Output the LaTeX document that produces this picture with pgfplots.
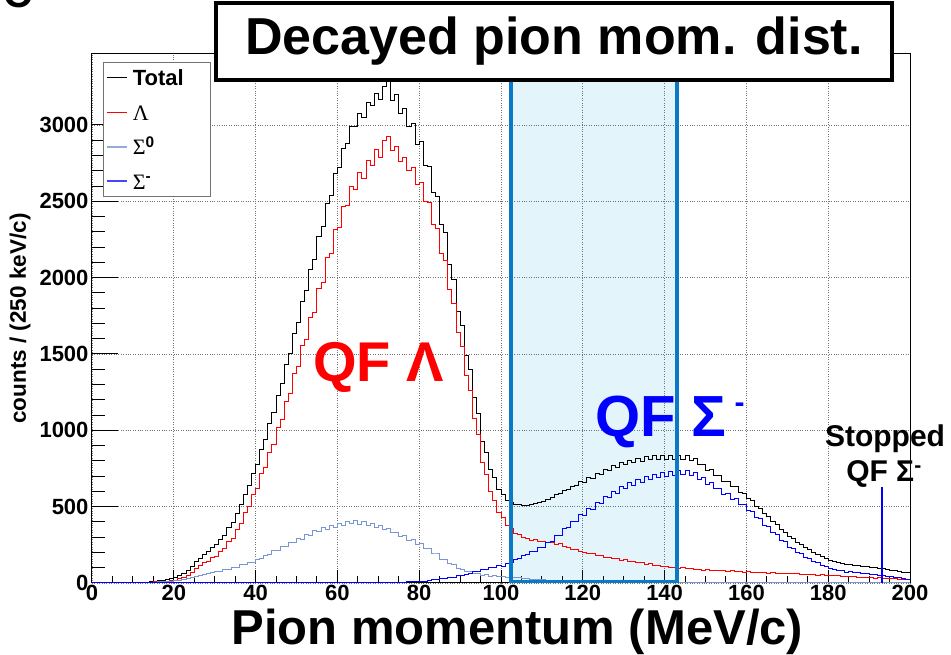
\documentclass[border=0pt]{standalone}
\usepackage{pgfplots}
\pgfplotsset{compat=1.18}
\usepackage{pgfplotstable}
\usepackage{fontspec}
\setmainfont{Liberation Sans}
\newfontfamily\grk{Liberation Serif}
\definecolor{sigzero}{RGB}{120,150,210}
\definecolor{hltint}{RGB}{0,155,220}
\definecolor{hlborder}{RGB}{10,122,200}
\definecolor{qfblue}{RGB}{0,0,255}
\definecolor{legblue}{RGB}{70,70,255}

\pgfplotstableread[row sep=\\]{
x y\\
10 2\\11 4\\12 3\\13 6\\14 5\\15 9\\16 8\\17 12\\18 13\\19 17\\
20 19\\21 27\\22 34\\23 52\\24 68\\25 98\\26 112\\27 134\\28 141\\29 165\\
30 172\\31 206\\32 224\\33 272\\34 294\\35 352\\36 392\\37 461\\38 500\\39 582\\
40 622\\41 714\\42 756\\43 858\\44 905\\45 1020\\46 1068\\47 1192\\48 1240\\49 1375\\
50 1418\\51 1558\\52 1596\\53 1740\\54 1772\\55 1930\\56 1968\\57 2135\\58 2160\\59 2318\\
60 2330\\61 2468\\62 2470\\63 2600\\64 2580\\65 2690\\66 2650\\67 2770\\68 2735\\69 2840\\
70 2790\\71 2900\\72 2925\\73 2830\\74 2860\\75 2760\\76 2790\\77 2700\\78 2720\\79 2610\\
80 2625\\81 2500\\82 2490\\83 2350\\84 2320\\85 2160\\86 2110\\87 1920\\88 1830\\89 1640\\
90 1550\\91 1360\\92 1260\\93 1080\\94 970\\95 790\\96 710\\97 600\\98 540\\99 462\\
100 428\\101 374\\102 356\\103 326\\104 320\\105 296\\106 294\\107 281\\108 284\\109 271\\
110 275\\111 262\\112 268\\113 255\\114 256\\115 236\\116 234\\117 219\\118 218\\119 205\\
120 203\\121 192\\122 193\\123 180\\124 181\\125 169\\126 170\\127 159\\128 161\\129 150\\
130 151\\131 141\\132 143\\133 132\\134 133\\135 123\\136 125\\137 115\\138 117\\139 107\\
140 110\\141 101\\142 104\\143 96\\144 99\\145 92\\146 95\\147 88\\148 91\\149 84\\
150 87\\151 82\\152 84\\153 79\\154 81\\155 76\\156 79\\157 74\\158 76\\159 71\\
160 74\\161 70\\162 72\\163 67\\164 69\\165 65\\166 68\\167 63\\168 65\\169 61\\
170 63\\171 59\\172 61\\173 56\\174 58\\175 54\\176 56\\177 51\\178 53\\179 49\\
180 51\\181 47\\182 48\\183 44\\184 45\\185 41\\186 42\\187 38\\188 39\\189 35\\
190 36\\191 32\\192 33\\193 30\\194 30\\195 27\\196 27\\197 24\\198 24\\199 21\\200 21\\
}\tabLambda

\pgfplotstableread[row sep=\\]{
x y\\
14 2\\15 4\\16 7\\17 7\\18 11\\19 12\\
20 17\\21 19\\22 26\\23 29\\24 38\\25 40\\26 50\\27 53\\28 64\\29 66\\
30 77\\31 78\\32 89\\33 91\\34 104\\35 104\\36 119\\37 120\\38 137\\39 137\\
40 156\\41 158\\42 182\\43 185\\44 210\\45 210\\46 236\\47 236\\48 264\\49 262\\
50 290\\51 288\\52 318\\53 313\\54 344\\55 338\\56 364\\57 352\\58 378\\59 366\\
60 390\\61 378\\62 406\\63 392\\64 410\\65 384\\66 400\\67 376\\68 390\\69 366\\
70 378\\71 350\\72 356\\73 328\\74 334\\75 306\\76 310\\77 280\\78 284\\79 254\\
80 258\\81 224\\82 224\\83 190\\84 190\\85 156\\86 156\\87 126\\88 122\\89 95\\
90 90\\91 74\\92 76\\93 62\\94 61\\95 49\\96 53\\97 45\\98 48\\99 40\\
100 43\\101 36\\102 38\\103 33\\104 34\\105 29\\106 30\\107 25\\108 26\\109 21\\
110 22\\111 18\\112 19\\113 16\\114 17\\115 14\\116 15\\117 12\\118 13\\119 10\\
120 11\\121 9\\122 10\\123 8\\124 9\\125 8\\126 9\\127 7\\128 8\\129 7\\
130 8\\131 6\\132 7\\133 6\\134 7\\135 6\\136 6\\137 5\\138 6\\139 5\\
140 5\\141 4\\142 5\\143 4\\144 5\\145 4\\146 5\\147 4\\148 5\\149 4\\
150 5\\151 4\\152 5\\153 4\\154 5\\155 4\\156 5\\157 4\\158 5\\159 4\\
160 5\\161 3\\162 4\\163 3\\164 4\\165 3\\166 4\\167 3\\168 4\\169 3\\
170 4\\171 3\\172 4\\173 3\\174 4\\175 3\\176 4\\177 3\\178 4\\179 3\\
180 4\\181 2\\182 3\\183 2\\184 3\\185 2\\186 3\\187 2\\188 3\\189 2\\
190 3\\191 2\\192 3\\193 2\\194 3\\195 2\\196 3\\197 2\\198 3\\199 2\\200 2\\
}\tabSigZero

\pgfplotstableread[row sep=\\]{
x y\\
0 0\\66 1\\67 2\\68 1\\69 3\\
70 2\\71 4\\72 3\\73 5\\74 4\\75 6\\76 5\\77 8\\78 7\\79 10\\
80 9\\81 13\\82 14\\83 20\\84 23\\85 31\\86 32\\87 38\\88 39\\89 46\\
90 47\\91 57\\92 60\\93 73\\94 76\\95 89\\96 90\\97 101\\98 100\\99 112\\
100 109\\101 129\\102 134\\103 155\\104 158\\105 180\\106 184\\107 206\\108 208\\109 233\\
110 234\\111 268\\112 273\\113 309\\114 312\\115 355\\116 361\\117 403\\118 405\\119 447\\
120 445\\121 488\\122 484\\123 529\\124 523\\125 567\\126 558\\127 601\\128 588\\129 632\\
130 617\\131 657\\132 637\\133 678\\134 657\\135 698\\136 675\\137 713\\138 688\\139 724\\
140 697\\141 732\\142 703\\143 737\\144 708\\145 738\\146 703\\147 722\\148 680\\149 688\\
150 645\\151 655\\152 616\\153 622\\154 582\\155 588\\156 550\\157 552\\158 512\\159 512\\
160 472\\161 470\\162 428\\163 421\\164 379\\165 370\\166 329\\167 319\\168 280\\169 270\\
170 235\\171 229\\172 201\\173 194\\174 168\\175 162\\176 140\\177 134\\178 114\\179 109\\
180 92\\181 91\\182 80\\183 81\\184 72\\185 73\\186 66\\187 68\\188 62\\189 64\\
190 58\\191 58\\192 50\\193 50\\194 43\\195 42\\196 35\\197 33\\198 27\\199 25\\200 25\\
}\tabSigMinus

\pgfplotstableread[row sep=\\]{
x y\\
10 2\\11 4\\12 3\\13 6\\14 7\\15 13\\16 15\\17 19\\18 24\\19 29\\
20 36\\21 46\\22 60\\23 81\\24 106\\25 138\\26 162\\27 187\\28 205\\29 231\\
30 249\\31 284\\32 313\\33 363\\34 398\\35 456\\36 511\\37 581\\38 637\\39 719\\
40 778\\41 872\\42 938\\43 1043\\44 1115\\45 1230\\46 1304\\47 1428\\48 1504\\49 1637\\
50 1708\\51 1846\\52 1914\\53 2053\\54 2116\\55 2268\\56 2332\\57 2487\\58 2538\\59 2684\\
60 2720\\61 2846\\62 2876\\63 2992\\64 2990\\65 3074\\66 3051\\67 3148\\68 3126\\69 3209\\
70 3170\\71 3254\\72 3284\\73 3163\\74 3198\\75 3072\\76 3105\\77 2988\\78 3011\\79 2874\\
80 2892\\81 2737\\82 2728\\83 2560\\84 2533\\85 2347\\86 2298\\87 2084\\88 1991\\89 1781\\
90 1687\\91 1491\\92 1396\\93 1215\\94 1107\\95 928\\96 853\\97 746\\98 688\\99 614\\
100 580\\101 539\\102 528\\103 514\\104 512\\105 505\\106 508\\107 512\\108 518\\109 525\\
110 531\\111 548\\112 560\\113 580\\114 585\\115 605\\116 610\\117 634\\118 636\\119 662\\
120 659\\121 689\\122 687\\123 717\\124 713\\125 744\\126 737\\127 767\\128 757\\129 789\\
130 776\\131 804\\132 787\\133 816\\134 797\\135 827\\136 806\\137 833\\138 811\\139 836\\
140 812\\141 837\\142 812\\143 837\\144 812\\145 834\\146 803\\147 814\\148 776\\149 776\\
150 737\\151 741\\152 705\\153 705\\154 668\\155 668\\156 634\\157 630\\158 593\\159 587\\
160 551\\161 543\\162 504\\163 491\\164 452\\165 438\\166 401\\167 385\\168 349\\169 334\\
170 302\\171 291\\172 266\\173 253\\174 230\\175 219\\176 200\\177 188\\178 171\\179 161\\
180 147\\181 140\\182 131\\183 127\\184 120\\185 120\\186 116\\187 113\\188 110\\189 107\\
190 104\\191 100\\192 97\\193 93\\194 89\\195 85\\196 80\\197 76\\198 72\\199 68\\200 68\\
}\tabTotal

\begin{document}
\begin{tikzpicture}
\begin{axis}[
  scale only axis, width=818pt, height=529pt,
  xmin=0, xmax=200, ymin=0, ymax=3465,
  xtick={0,20,...,200}, ytick={0,500,...,3000},
  minor x tick num=3, minor y tick num=4,
  tick pos=left, tick align=inside,
  xtick style={/pgfplots/major tick length=13pt,/pgfplots/minor tick length=7pt, line width=1pt, black},
  ytick style={/pgfplots/major tick length=26pt,/pgfplots/minor tick length=13pt, line width=1pt, black},
  grid=major, major grid style={dotted, line width=0.8pt, black!55},
  axis line style={line width=1pt},
  ticklabel style={font=\fontsize{22}{22}\selectfont\bfseries},
  xticklabel style={yshift=1pt},
  /pgf/number format/assume math mode=true,
  /pgf/number format/1000 sep={},
  scaled y ticks=false,
  xlabel={Pion momentum (MeV/c)},
  xlabel style={font=\fontsize{49}{49}\selectfont\bfseries, at={(axis description cs:0.52,-0.1165)}, anchor=base, inner sep=0pt},
  ylabel={counts / (250 keV/c)},
  ylabel style={font=\fontsize{22.5}{22.5}\selectfont\bfseries, at={(axis description cs:-0.088,0.5)}, anchor=center},
  legend style={at={(0.0134,0.985)}, anchor=north west, draw=black!55, line width=1.3pt,
    font=\fontsize{22}{22}\selectfont, inner xsep=2pt, inner ysep=4pt, row sep=12pt,
    column sep=3pt, cells={anchor=west},
    /tikz/column 2/.style={text width=74pt, text height=17pt, text depth=4pt}},
  legend image code/.code={\draw[#1] (0pt,0pt) -- (20pt,0pt);},
  legend cell align=left,
]
\fill[hltint, fill opacity=0.11] (axis cs:102.4,8) rectangle (axis cs:143,3294);
\addplot[const plot, draw=black, line width=1pt, forget plot] table[x=x,y=y] {\tabTotal};
\addplot[const plot, draw=red, line width=1pt, forget plot] table[x=x,y=y] {\tabLambda};
\addplot[const plot, draw=sigzero, line width=1pt, forget plot] table[x=x,y=y] {\tabSigZero};
\addplot[const plot, draw=qfblue, line width=1pt, forget plot] table[x=x,y=y] {\tabSigMinus};
\addplot[draw=qfblue, line width=2.2pt, forget plot] coordinates {(193.1,0) (193.1,630)};
\addlegendimage{draw=black, line width=1pt}
\addlegendentry{\bfseries Total}
\addlegendimage{draw=red, line width=1.3pt}
\addlegendentry{{\grk Λ}}
\addlegendimage{draw=sigzero!80, line width=1.4pt}
\addlegendentry{{\grk Σ}\textsuperscript{\bfseries 0}}
\addlegendimage{draw=legblue, line width=2.2pt}
\addlegendentry{{\grk Σ}\textsuperscript{\bfseries -}}
\draw[hlborder, line width=4pt] (axis cs:102.4,8) rectangle (axis cs:143,3294);
\end{axis}

\node[text=red, font=\fontsize{56}{56}\selectfont\bfseries, anchor=base west, inner sep=0pt] at (221pt,201pt) {QF Λ};
\node[text=qfblue, font=\fontsize{58}{58}\selectfont\bfseries, anchor=base west, inner sep=0pt] at (503pt,146pt) {QF Σ\hspace{8pt}\raisebox{24pt}{\fontsize{30}{30}\selectfont -}};
\node[font=\fontsize{30}{30}\selectfont\bfseries, anchor=base, inner sep=0pt] at (793pt,136pt) {Stopped};
\node[font=\fontsize{30}{30}\selectfont\bfseries, anchor=base, inner sep=0pt] at (792pt,101pt) {QF Σ\textsuperscript{-}};
\node[draw, line width=3.5pt, fill=white, minimum width=676pt, minimum height=77pt, inner sep=0pt,
  font=\fontsize{52}{52}\selectfont\bfseries] at (462pt,541.5pt) {Decayed pion mom. dist.};
\node[font=\fontsize{40}{40}\selectfont\bfseries, anchor=base, inner sep=0pt] at (-74pt,575pt) {C};

\pgfresetboundingbox
\useasboundingbox (-92pt,-72pt) rectangle (859pt,583pt);
\end{tikzpicture}
\end{document}
